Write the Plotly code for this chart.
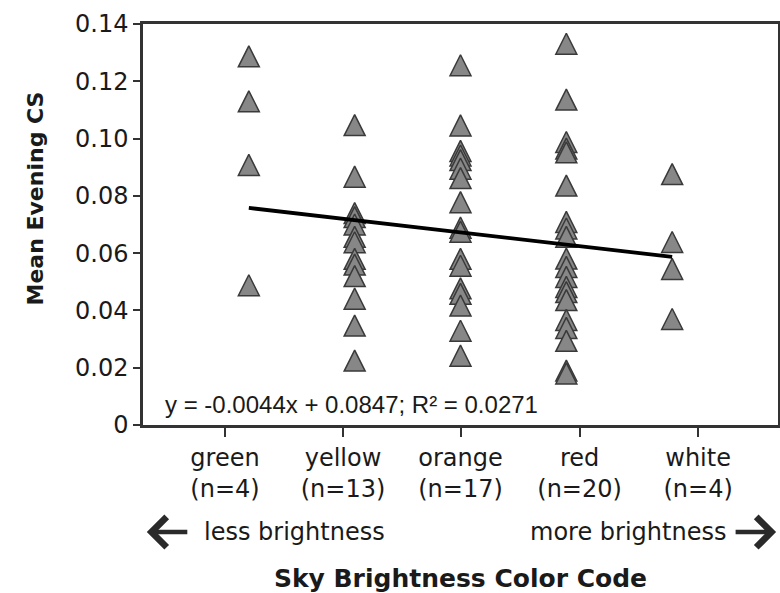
import plotly.graph_objects as go

# ---------------- data ----------------
categories = ["green", "yellow", "orange", "red", "white"]
category_codes = [1, 2, 3, 4, 5]

green_cs = [0.1287, 0.1130, 0.0908, 0.0488]
yellow_cs = [0.1047, 0.0867, 0.0740, 0.0726, 0.0700, 0.0657, 0.0638, 0.0580,
             0.0560, 0.0520, 0.0441, 0.0347, 0.0225]
orange_cs = [0.1256, 0.1046, 0.0957, 0.0941, 0.0925, 0.0895, 0.0862, 0.0778,
             0.0689, 0.0675, 0.0580, 0.0556, 0.0477, 0.0458, 0.0417, 0.0329, 0.0242]
red_cs = [0.1331, 0.1136, 0.0988, 0.0965, 0.0952, 0.0836, 0.0709, 0.0686,
          0.0657, 0.0581, 0.0552, 0.0517, 0.0482, 0.0464, 0.0436, 0.0367,
          0.0339, 0.0294, 0.0190, 0.0180]
white_cs = [0.0876, 0.0639, 0.0545, 0.0370]

trend_x = [1, 5]
trend_y = [0.0758, 0.0587]

y_tick_vals = [0, 0.02, 0.04, 0.06, 0.08, 0.10, 0.12, 0.14]
y_tick_text = ["0", "0.02", "0.04", "0.06", "0.08", "0.10", "0.12", "0.14"]

equation_text = "y = -0.0044x + 0.0847; R² = 0.0271"
series_values = [green_cs, yellow_cs, orange_cs, red_cs, white_cs]

# label positions along the x axis (layout)
label_positions = [0.775, 1.89, 3.0, 4.125, 5.245]

# ---------------- figure ----------------
xs, ys = [], []
for code, vals in zip(category_codes, series_values):
    xs += [code] * len(vals)
    ys += vals

fig = go.Figure()
# upward triangle centred on the point (arrow-down rotated 180deg, shifted by half its height)
fig.add_trace(go.Scatter(
    x=xs, y=ys, mode="markers",
    marker=dict(symbol="arrow-down", angle=180, size=21, standoff=10.5,
                color="#878787", line=dict(color="#3a3a3a", width=1.5)),
    showlegend=False, hoverinfo="x+y"))

fig.add_trace(go.Scatter(
    x=trend_x, y=trend_y, mode="lines",
    line=dict(color="black", width=3.8), showlegend=False))

tick_text = [f"{c}<br>(n={len(v)})" for c, v in zip(categories, series_values)]

font_family = "DejaVu Sans, Verdana, sans-serif"
axis_font = dict(family=font_family, size=24, color="#1a1a1a")

fig.update_layout(
    width=780, height=593,
    margin=dict(l=143, r=2, t=24, b=168),
    paper_bgcolor="white", plot_bgcolor="white",
    font=axis_font,
    xaxis=dict(range=[0, 6], showgrid=False, zeroline=False,
               showline=True, mirror=True, linecolor="#333333", linewidth=2.5,
               tickmode="array", tickvals=label_positions, ticktext=tick_text,
               ticks="outside", ticklen=9, tickwidth=1.5, tickcolor="#333333",
               tickfont=axis_font,
               title=dict(text="<b>Sky Brightness Color Code</b>", standoff=68,
                          font=dict(family=font_family, size=25, color="#1a1a1a")),
               automargin=False),
    yaxis=dict(range=[0, 0.14], showgrid=False, zeroline=False,
               showline=True, mirror=True, linecolor="#333333", linewidth=2.5,
               tickmode="array", tickvals=y_tick_vals, ticktext=y_tick_text,
               ticks="outside", ticklen=7, tickwidth=1.5, tickcolor="#333333",
               tickfont=axis_font, automargin=False),
)

# y-axis title
fig.add_annotation(xref="paper", yref="paper", x=-0.170, y=0.565,
                   xanchor="center", yanchor="middle", textangle=-90,
                   showarrow=False, text="<b>Mean Evening CS</b>",
                   font=dict(family=font_family, size=22, color="#1a1a1a"))

# regression equation
fig.add_annotation(xref="paper", yref="paper", x=0.031, y=0.052,
                   xanchor="left", yanchor="middle", showarrow=False,
                   text=equation_text,
                   font=dict(family="Liberation Sans, Arial, sans-serif", size=24, color="#1a1a1a"))

# brightness direction labels
fig.add_annotation(xref="paper", yref="paper", x=0.238, y=-0.267,
                   xanchor="center", yanchor="middle",
                   showarrow=False, text="less brightness", font=axis_font)
fig.add_annotation(xref="paper", yref="paper", x=0.764, y=-0.267,
                   xanchor="center", yanchor="middle",
                   showarrow=False, text="more brightness", font=axis_font)

# arrows
fig.add_annotation(xref="paper", yref="paper", x=0.006, y=-0.267, ax=42, ay=0,
                   text="", showarrow=True, arrowhead=4, arrowwidth=4.5,
                   arrowsize=1.3, arrowcolor="#2a2a2a")
fig.add_annotation(xref="paper", yref="paper", x=0.997, y=-0.267, ax=-42, ay=0,
                   text="", showarrow=True, arrowhead=4, arrowwidth=4.5,
                   arrowsize=1.3, arrowcolor="#2a2a2a")

fig.write_html("out.html", config={"displayModeBar": False},
               post_script="document.body.style.margin='0px';")
